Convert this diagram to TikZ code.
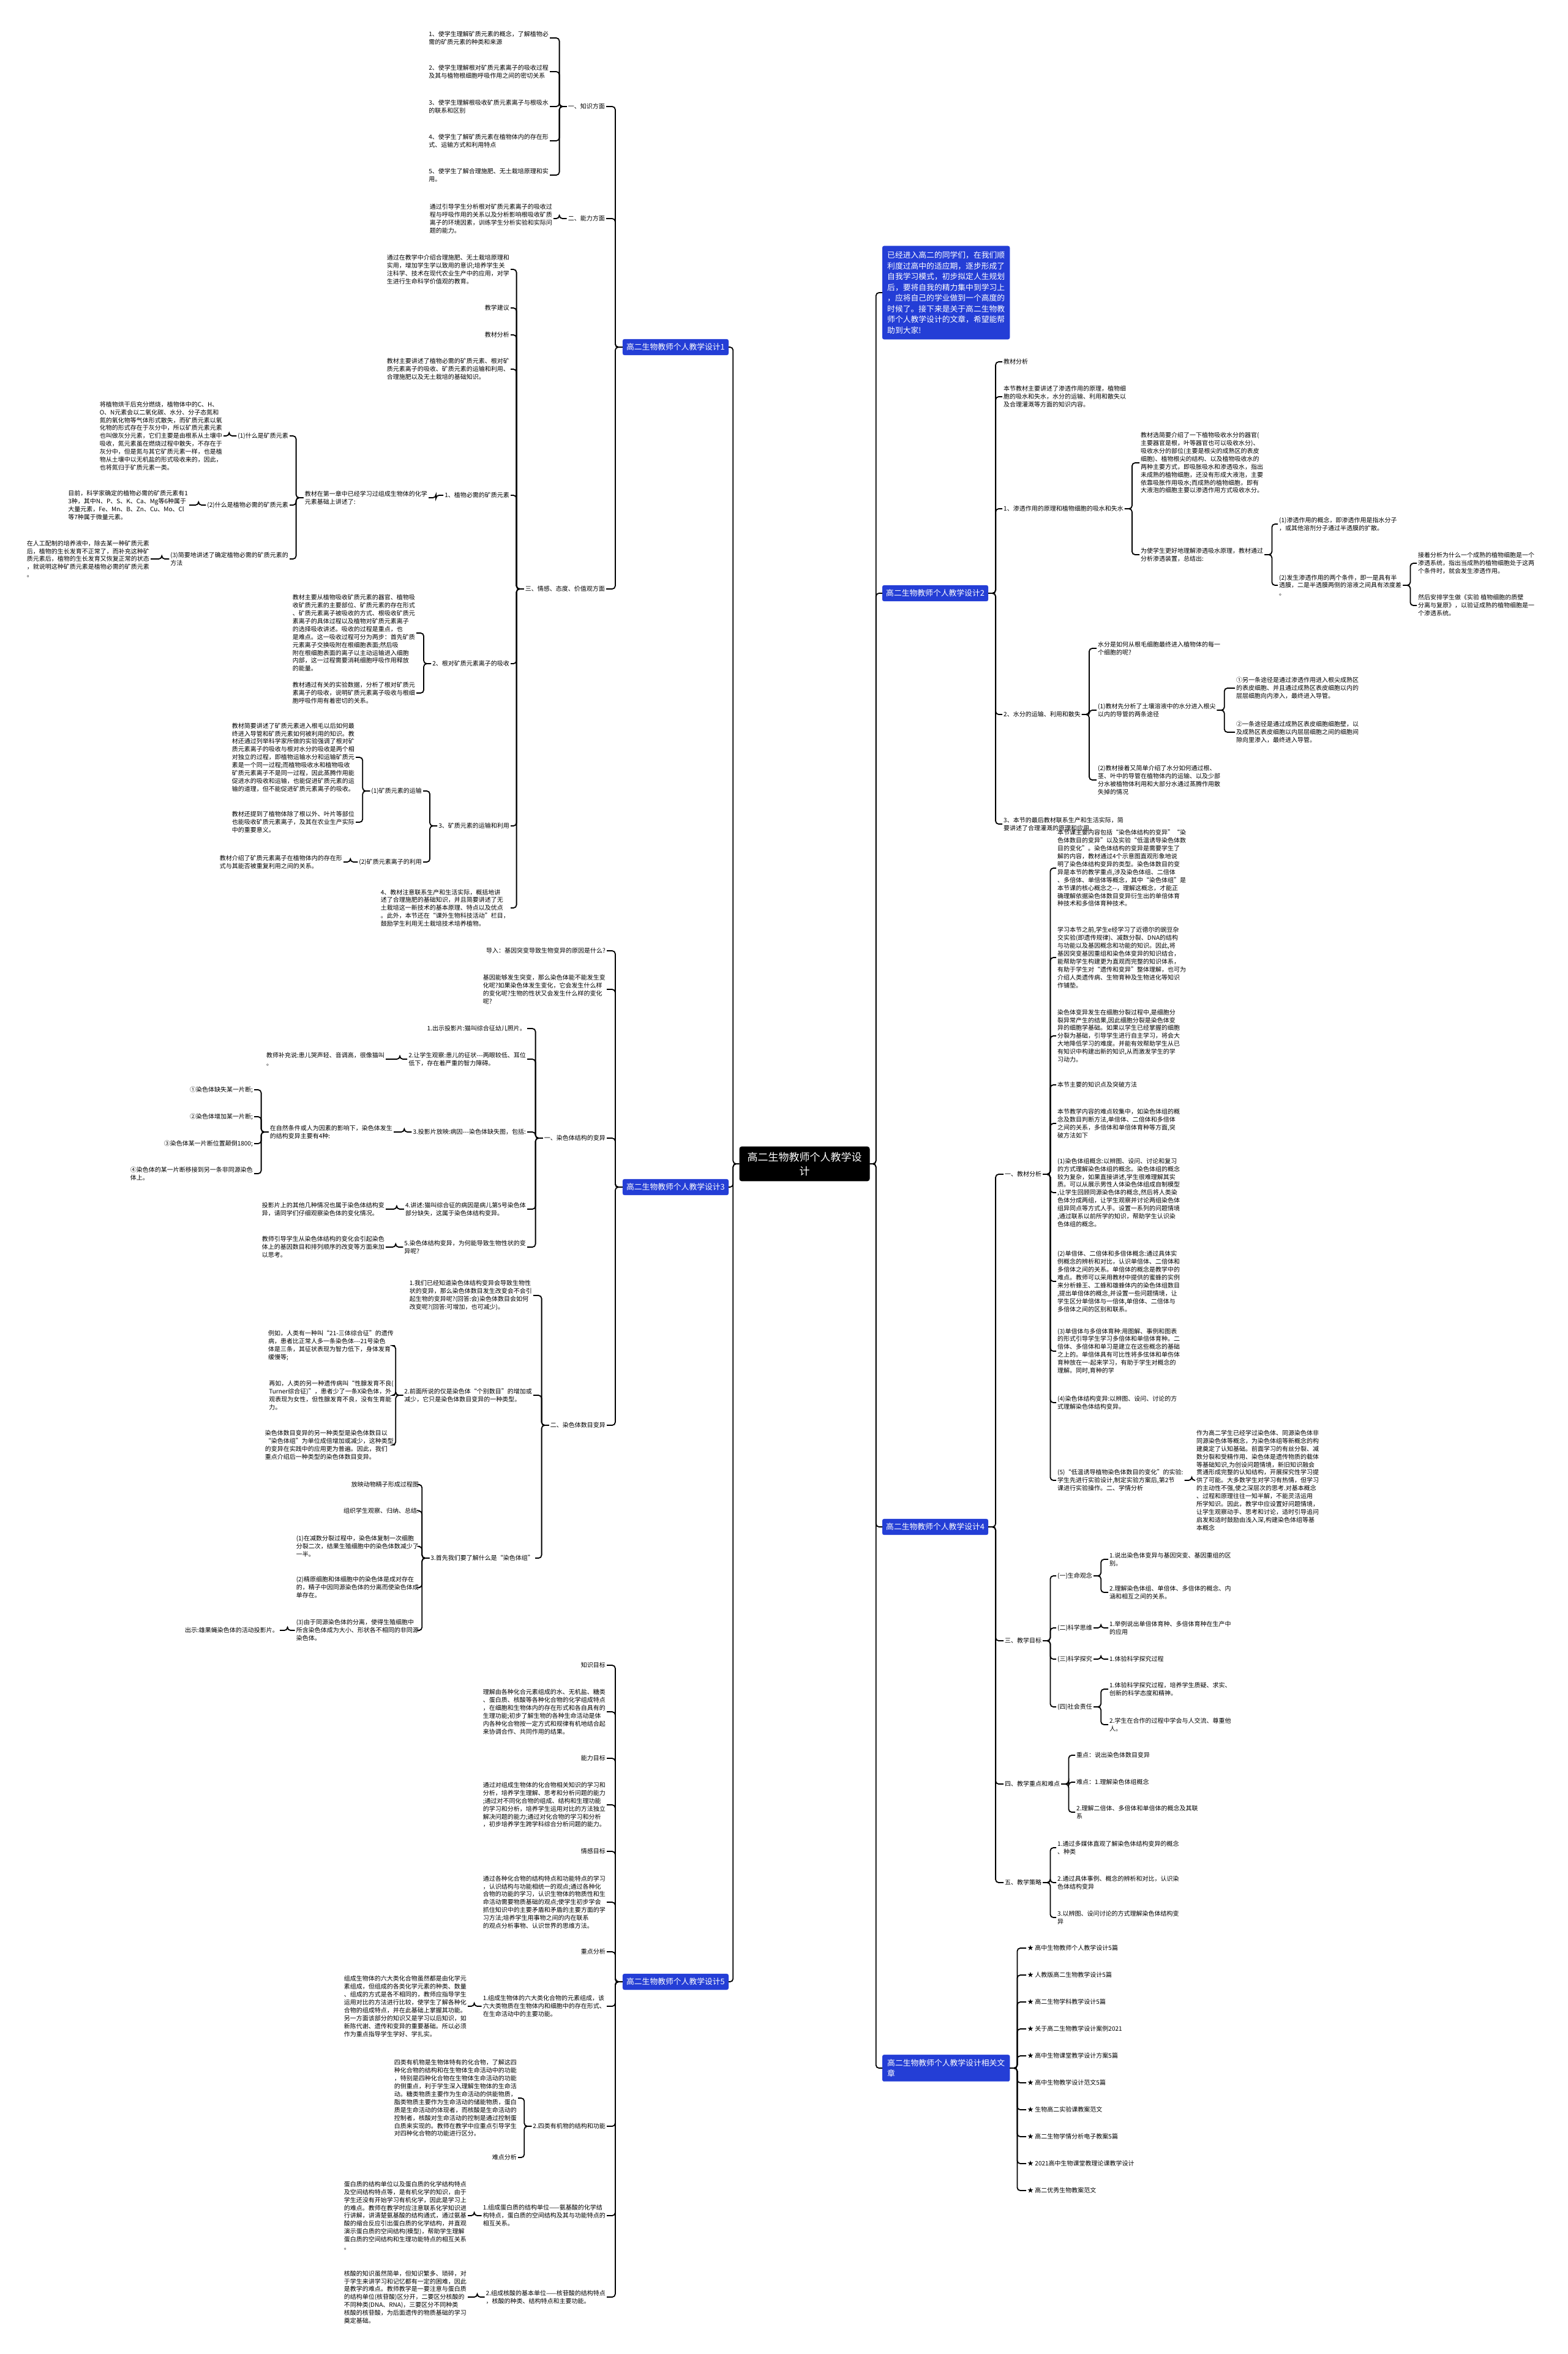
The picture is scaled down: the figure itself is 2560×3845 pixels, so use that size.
\documentclass[tikz,border=0pt]{standalone}
\usepackage{fontspec}
\setmainfont{Noto Sans CJK SC}
\definecolor{topicblue}{RGB}{36,62,214}
\newcommand{\leftkids}[2]{\foreach \kid in {#2}{\draw[conn] (#1.west) -- ++(-12,0) |- (\kid.east);}}
\newcommand{\rightkids}[2]{\foreach \kid in {#2}{\draw[conn] (#1.east) -- ++(12,0) |- (\kid.west);}}

\begin{document}
\begin{tikzpicture}[x=1pt,y=-1pt,
  txt/.style={font=\fontsize{10}{12.9}\selectfont, inner xsep=2pt, inner ysep=1pt, align=left},
  lt/.style={txt, anchor=east},
  rt/.style={txt, anchor=west},
  topic/.style={fill=topicblue, draw=topicblue, text=white, rounded corners=3pt,
    font=\fontsize{12.8}{17.5}\selectfont, inner xsep=6pt, inner ysep=7pt, align=left},
  centrebox/.style={fill=black, text=white, rounded corners=4pt,
    font=\fontsize{17}{23}\selectfont, align=center, inner xsep=13pt, inner ysep=9pt},
  conn/.style={line width=1.8pt, rounded corners=5pt}]
\useasboundingbox (0,0) rectangle (2560,3845);

\node[centrebox] (centre) at (1314,1901) {高二生物教师个人教学设\\计};

\node[topic, anchor=east] (t1) at (1190,567) {高二生物教师个人教学设计1};
\node[topic, anchor=east] (t3) at (1190,1939) {高二生物教师个人教学设计3};
\node[topic, anchor=east] (t5) at (1190,3237) {高二生物教师个人教学设计5};
\node[topic, anchor=west, inner xsep=8pt, inner ysep=9pt] (intro) at (1441,478) {已经进入高二的同学们，在我们顺\\利度过高中的适应期，逐步形成了\\自我学习模式，初步拟定人生规划\\后，要将自我的精力集中到学习上\\，应将自己的学业做到一个高度的\\时候了。接下来是关于高二生物教\\师个人教学设计的文章，希望能帮\\助到大家!};
\node[topic, anchor=west] (t2) at (1441,969) {高二生物教师个人教学设计2};
\node[topic, anchor=west] (t4) at (1441,2494) {高二生物教师个人教学设计4};
\node[topic, anchor=west, inner xsep=8pt] (rel) at (1441,3378) {高二生物教师个人教学设计相关文\\章};

\node[lt] (zs) at (990,174) {一、知识方面};
\node[lt] (zs1) at (898,62) {1、使学生理解矿质元素的概念，了解植物必\\需的矿质元素的种类和来源};
\node[lt] (zs2) at (898,117) {2、使学生理解根对矿质元素离子的吸收过程\\及其与植物根细胞呼吸作用之间的密切关系};
\node[lt] (zs3) at (898,174) {3、使学生理解根吸收矿质元素离子与根吸水\\的联系和区别};
\node[lt] (zs4) at (898,230) {4、使学生了解矿质元素在植物体内的存在形\\式、运输方式和利用特点};
\node[lt] (zs5) at (898,286) {5、使学生了解合理施肥、无土栽培原理和实\\用。};
\node[lt] (nl) at (990,357) {二、能力方面};
\node[lt] (nl1) at (904,357) {通过引导学生分析根对矿质元素离子的吸收过\\程与呼吸作用的关系以及分析影响根吸收矿质\\离子的环境因素，训练学生分析实验和实际问\\题的能力。};
\node[lt] (qg) at (990,962) {三、情感、态度、价值观方面};
\node[lt] (qg1) at (834,440) {通过在教学中介绍合理施肥、无土栽培原理和\\实用，增加学生学以致用的意识;培养学生关\\注科学、技术在现代农业生产中的应用，对学\\生进行生命科学价值观的教育。};
\node[lt] (qg2) at (834,503) {教学建议};
\node[lt] (qg3) at (834,547) {教材分析};
\node[lt] (qg4) at (834,603) {教材主要讲述了植物必需的矿质元素、根对矿\\质元素离子的吸收、矿质元素的运输和利用、\\合理施肥以及无土栽培的基础知识。};
\node[lt] (kz) at (834,809) {1、植物必需的矿质元素};
\node[lt] (kz0) at (700,813) {教材在第一章中已经学习过组成生物体的化学\\元素基础上讲述了:};
\node[lt] (kz1) at (473,712) {(1)什么是矿质元素};
\node[lt] (kz1a) at (365,712) {将植物烘干后充分燃烧，植物体中的C、H、\\O、N元素会以二氧化碳、水分、分子态氮和\\氮的氧化物等气体形式散失，而矿质元素以氧\\化物的形式存在于灰分中，所以矿质元素元素\\也叫做灰分元素，它们主要是由根系从土壤中\\吸收，氮元素虽在燃烧过程中散失，不存在于\\灰分中，但是氮与其它矿质元素一样，也是植\\物从土壤中以无机盐的形式吸收来的，因此，\\也将氮归于矿质元素一类。};
\node[lt] (kz2) at (473,825) {(2)什么是植物必需的矿质元素};
\node[lt] (kz2a) at (309,825) {目前，科学家确定的植物必需的矿质元素有1\\3种，其中N、P、S、K、Ca、Mg等6种属于\\大量元素，Fe、Mn、B、Zn、Cu、Mo、Cl\\等7种属于微量元素。};
\node[lt] (kz3) at (473,913) {(3)简要地讲述了确定植物必需的矿质元素的\\方法};
\node[lt] (kz3a) at (246,913) {在人工配制的培养液中，除去某一种矿质元素\\后，植物的生长发育不正常了，而补充这种矿\\质元素后，植物的生长发育又恢复正常的状态\\，就说明这种矿质元素是植物必需的矿质元素\\。};
\node[lt] (xs) at (834,1084) {2、根对矿质元素离子的吸收};
\node[lt] (xs1) at (680,1034) {教材主要从植物吸收矿质元素的器官、植物吸\\收矿质元素的主要部位、矿质元素的存在形式\\、矿质元素离子被吸收的方式、根吸收矿质元\\素离子的具体过程以及植物对矿质元素离子\\的选择吸收讲述。吸收的过程是重点，也\\是难点。这一吸收过程可分为两步：首先矿质\\元素离子交换吸附在根细胞表面;然后吸\\附在根细胞表面的离子以主动运输进入细胞\\内部，这一过程需要消耗细胞呼吸作用释放\\的能量。};
\node[lt] (xs2) at (680,1132) {教材通过有关的实验数据，分析了根对矿质元\\素离子的吸收，说明矿质元素离子吸收与根细\\胞呼吸作用有着密切的关系。};
\node[lt] (ys) at (834,1349) {3、矿质元素的运输和利用};
\node[lt] (ys1) at (691,1292) {(1)矿质元素的运输};
\node[lt] (ys1a) at (581,1237) {教材简要讲述了矿质元素进入根毛以后如何最\\终进入导管和矿质元素如何被利用的知识。教\\材还通过列举科学家所做的实验强调了根对矿\\质元素离子的吸收与根对水分的吸收是两个相\\对独立的过程，即植物运输水分和运输矿质元\\素是一个同一过程;而植物吸收水和植物吸收\\矿质元素离子不是同一过程，因此蒸腾作用能\\促进水的吸收和运输，也能促进矿质元素的运\\输的道理，但不能促进矿质元素离子的吸收。};
\node[lt] (ys1b) at (581,1343) {教材还提到了植物体除了根以外、叶片等部位\\也能吸收矿质元素离子，及其在农业生产实际\\中的重要意义。};
\node[lt] (ys2) at (691,1408) {(2)矿质元素离子的利用};
\node[lt] (ys2a) at (561,1408) {教材介绍了矿质元素离子在植物体内的存在形\\式与其能否被重复利用之间的关系。};
\node[lt] (qg8) at (834,1483) {4、教材注意联系生产和生活实际，概括地讲\\述了合理施肥的基础知识，并且简要讲述了无\\土栽培这一新技术的基本原理、特点以及优点\\。此外，本节还在“课外生物科技活动”栏目，\\鼓励学生利用无土栽培技术培养植物。};

\node[lt] (dr) at (991,1553) {导入：基因突变导致生物变异的原因是什么?};
\node[lt] (jy) at (991,1616) {基因能够发生突变，那么染色体能不能发生变\\化呢?如果染色体发生变化，它会发生什么样\\的变化呢?生物的性状又会发生什么样的变化\\呢?};
\node[lt] (jg) at (991,1859) {一、染色体结构的变异};
\node[lt] (jg1) at (861,1680) {1.出示投影片:猫叫综合征幼儿照片。};
\node[lt] (jg2) at (861,1730) {2.让学生观察:患儿的征状-{}-{}-两眼较低、耳位\\低下，存在着严重的智力障碍。};
\node[lt] (jg2a) at (630,1730) {教师补充说:患儿哭声轻、音调高，很像猫叫\\。};
\node[lt] (jg3) at (861,1849) {3.投影片放映:病因-{}-{}-染色体缺失图，包括:};
\node[lt] (jg3a) at (643,1849) {在自然条件或人为因素的影响下，染色体发生\\的结构变异主要有4种:};
\node[lt] (jg3a1) at (415,1780) {①染色体缺失某一片断;};
\node[lt] (jg3a2) at (415,1824) {②染色体增加某一片断;};
\node[lt] (jg3a3) at (415,1868) {③染色体某一片断位置颠倒1800;};
\node[lt] (jg3a4) at (415,1917) {④染色体的某一片断移接到另一条非同源染色\\体上。};
\node[lt] (jg4) at (861,1975) {4.讲述:猫叫综合征的病因是病儿第5号染色体\\部分缺失，这属于染色体结构变异。};
\node[lt] (jg4a) at (630,1975) {投影片上的其他几种情况也属于染色体结构变\\异，请同学们仔细观察染色体的变化情况。};
\node[lt] (jg5) at (861,2037) {5.染色体结构变异，为何能导致生物性状的变\\异呢?};
\node[lt] (jg5a) at (630,2037) {教师引导学生从染色体结构的变化会引起染色\\体上的基因数目和排列顺序的改变等方面来加\\以思考。};
\node[lt] (sm) at (991,2328) {二、染色体数目变异};
\node[lt] (sm1) at (871,2116) {1.我们已经知道染色体结构变异会导致生物性\\状的变异，那么染色体数目发生改变会不会引\\起生物的变异呢?(回答:会)染色体数目会如何\\改变呢?(回答:可增加，也可减少)。};
\node[lt] (sm2) at (871,2279) {2.前面所说的仅是染色体“个别数目”的增加或\\减少，它只是染色体数目变异的一种类型。};
\node[lt] (sm2a) at (645,2198) {例如，人类有一种叫“21-三体综合征”的遗传\\病，患者比正常人多一条染色体-{}-{}-21号染色\\体是三条，其征状表现为智力低下，身体发育\\缓慢等;};
\node[lt] (sm2b) at (645,2279) {再如，人类的另一种遗传病叫“性腺发育不良(\\Turner综合征)”，患者少了一条X染色体，外\\观表现为女性，但性腺发育不良，没有生育能\\力。};
\node[lt] (sm2c) at (645,2360) {染色体数目变异的另一种类型是染色体数目以\\“染色体组”为单位成倍增加或减少，这种类型\\的变异在实践中的应用更为普遍。因此，我们\\重点介绍后一种类型的染色体数目变异。};
\node[lt] (sm3) at (874,2545) {3.首先我们要了解什么是“染色体组”};
\node[lt] (sm3a) at (686,2425) {放映动物精子形成过程图};
\node[lt] (sm3b) at (686,2468) {组织学生观察、归纳、总结:};
\node[lt] (sm3c) at (686,2526) {(1)在减数分裂过程中，染色体复制一次细胞\\分裂二次，结果生殖细胞中的染色体数减少了\\一半。};
\node[lt] (sm3d) at (686,2593) {(2)精原细胞和体细胞中的染色体是成对存在\\的，精子中因同源染色体的分离而使染色体成\\单存在。};
\node[lt] (sm3e) at (686,2663) {(3)由于同源染色体的分离，使得生殖细胞中\\所含染色体成为大小、形状各不相同的非同源\\染色体。};
\node[lt] (sm3e1) at (457,2663) {出示:雄果蝇染色体的活动投影片。};

\node[lt] (mb1) at (991,2720) {知识目标};
\node[lt] (mb2) at (991,2796) {理解由各种化合元素组成的水、无机盐、糖类\\、蛋白质、核酸等各种化合物的化学组成特点\\，在细胞和生物体内的存在形式和各自具有的\\生理功能;初步了解生物的各种生命活动是体\\内各种化合物按一定方式和规律有机地结合起\\来协调合作、共同作用的结果。};
\node[lt] (mb3) at (991,2872) {能力目标};
\node[lt] (mb4) at (991,2948) {通过对组成生物体的化合物相关知识的学习和\\分析，培养学生理解、思考和分析问题的能力\\;通过对不同化合物的组成、结构和生理功能\\的学习和分析，培养学生运用对比的方法独立\\解决问题的能力;通过对化合物的学习和分析\\，初步培养学生跨学科综合分析问题的能力。};
\node[lt] (mb5) at (991,3024) {情感目标};
\node[lt] (mb6) at (991,3107) {通过各种化合物的结构特点和功能特点的学习\\，认识结构与功能相统一的观点;通过各种化\\合物的功能的学习，认识生物体的物质性和生\\命活动需要物质基础的观点;使学生初步学会\\抓住知识中的主要矛盾和矛盾的主要方面的学\\习方法;培养学生用事物之间的内在联系\\的观点分析事物、认识世界的思维方法。};
\node[lt] (zd) at (991,3188) {重点分析};
\node[lt] (zd1) at (991,3277) {1.组成生物体的六大类化合物的元素组成，该\\六大类物质在生物体内和细胞中的存在形式、\\在生命活动中的主要功能。};
\node[lt] (zd1a) at (764,3277) {组成生物体的六大类化合物虽然都是由化学元\\素组成，但组成的各类化学元素的种类、数量\\、组成的方式是各不相同的，教师应指导学生\\运用对比的方法进行比较，使学生了解各种化\\合物的组成特点，并在此基础上掌握其功能。\\另一方面该部分的知识又是学习以后知识，如\\新陈代谢、遗传和变异的重要基础。所以必须\\作为重点指导学生学好、学扎实。};
\node[lt] (zd2) at (991,3473) {2.四类有机物的结构和功能};
\node[lt] (zd2a) at (846,3427) {四类有机物是生物体特有的化合物，了解这四\\种化合物的结构和在生物体生命活动中的功能\\，特别是四种化合物在生物体生命活动的功能\\的侧重点，利于学生深入理解生物体的生命活\\动。糖类物质主要作为生命活动的供能物质，\\脂类物质主要作为生命活动的储能物质，蛋白\\质是生命活动的体现者，而核酸是生命活动的\\控制者，核酸对生命活动的控制是通过控制蛋\\白质来实现的。教师在教学中应重点引导学生\\对四种化合物的功能进行区分。};
\node[lt] (nd) at (846,3524) {难点分析};
\node[lt] (nd1) at (991,3619) {1.组成蛋白质的结构单位——氨基酸的化学结\\构特点，蛋白质的空间结构及其与功能特点的\\相互关系。};
\node[lt] (nd1a) at (764,3619) {蛋白质的结构单位以及蛋白质的化学结构特点\\及空间结构特点等，是有机化学的知识，由于\\学生还没有开始学习有机化学，因此是学习上\\的难点。教师在教学时应注意联系化学知识进\\行讲解，讲清楚氨基酸的结构通式，通过氨基\\酸的缩合反应引出蛋白质的化学结构，并直观\\演示蛋白质的空间结构(模型)，帮助学生理解\\蛋白质的空间结构和生理功能特点的相互关系\\。};
\node[lt] (nd2) at (991,3752) {2.组成核酸的基本单位——核苷酸的结构特点\\，核酸的种类、结构特点和主要功能。};
\node[lt] (nd2a) at (764,3752) {核酸的知识虽然简单，但知识繁多、琐碎，对\\于学生来讲学习和记忆都有一定的困难，因此\\是教学的难点。教师教学是一要注意与蛋白质\\的结构单位(核苷酸)区分开，二要区分核酸的\\不同种类(DNA、RNA)，三要区分不同种类\\核酸的核苷酸，为后面遗传的物质基础的学习\\奠定基础。};

\node[rt] (fx) at (1637,591) {教材分析};
\node[rt] (bj) at (1637,648) {本节教材主要讲述了渗透作用的原理，植物细\\胞的吸水和失水，水分的运输、利用和散失以\\及合理灌溉等方面的知识内容。};
\node[rt] (st) at (1637,831) {1、渗透作用的原理和植物细胞的吸水和失水};
\node[rt] (st1) at (1861,756) {教材选简要介绍了一下植物吸收水分的器官(\\主要器官是根，叶等器官也可以吸收水分)、\\吸收水分的部位(主要是根尖的成熟区的表皮\\细胞)、植物根尖的结构、以及植物吸收水的\\两种主要方式，即吸胀吸水和渗透吸水，指出\\未成熟的植物细胞，还没有形成大液泡，主要\\依靠吸胀作用吸水;而成熟的植物细胞，即有\\大液泡的细胞主要以渗透作用方式吸收水分。};
\node[rt] (st2) at (1861,906) {为使学生更好地理解渗透吸水原理，教材通过\\分析渗透装置，总结出:};
\node[rt] (st2a) at (2087,856) {(1)渗透作用的概念，即渗透作用是指水分子\\，或其他溶剂分子通过半透膜的扩散。};
\node[rt] (st2b) at (2087,956) {(2)发生渗透作用的两个条件，即一是具有半\\透膜，二是半透膜两侧的溶液之间具有浓度差\\。};
\node[rt] (st2b1) at (2314,920) {接着分析为什么一个成熟的植物细胞是一个\\渗透系统，指出当成熟的植物细胞处于这两\\个条件时，就会发生渗透作用。};
\node[rt] (st2b2) at (2314,989) {然后安排学生做《实验 植物细胞的质壁\\分离与复原》，以验证成熟的植物细胞是一\\个渗透系统。};
\node[rt] (sf) at (1637,1167) {2、水分的运输、利用和散失};
\node[rt] (sf1) at (1791,1059) {水分是如何从根毛细胞最终进入植物体的每一\\个细胞的呢?};
\node[rt] (sf2) at (1791,1160) {(1)教材先分析了土壤溶液中的水分进入根尖\\以内的导管的两条途径};
\node[rt] (sf2a) at (2017,1124) {①另一条途径是通过渗透作用进入根尖成熟区\\的表皮细胞、并且通过成熟区表皮细胞以内的\\层层细胞向内渗入，最终进入导管。};
\node[rt] (sf2b) at (2017,1196) {②一条途径是通过成熟区表皮细胞细胞壁，以\\及成熟区表皮细胞以内层层细胞之间的细胞间\\隙向里渗入，最终进入导管。};
\node[rt] (sf3) at (1791,1274) {(2)教材接着又简单介绍了水分如何通过根、\\茎、叶中的导管在植物体内的运输、以及少部\\分水被植物体利用和大部分水通过蒸腾作用散\\失掉的情况};
\node[rt] (hl) at (1637,1346) {3、本节的最后教材联系生产和生活实际，简\\要讲述了合理灌溉的原理和应用。};

\node[rt] (jc) at (1639,1918) {一、教材分析};
\node[rt] (jc1) at (1725,1418) {本节课主要内容包括“染色体结构的变异”“染\\色体数目的变异”以及实验“低温诱导染色体数\\目的变化”。染色体结构的变异是需要学生了\\解的内容，教材通过4个示意图直观形象地说\\明了染色体结构变异的类型。染色体数目的变\\异是本节的教学重点,涉及染色体组、二倍体\\、多倍体、单倍体等概念，其中“染色体组”是\\本节课的核心概念之-{}-，理解这概念，才能正\\确理解依据染色体数目变异衍生出的单倍体育\\种技术和多倍体育种技术。};
\node[rt] (jc2) at (1725,1564) {学习本节之前,学生e经学习了近德尔的豌豆杂\\交实验(即遗传规律)、减数分裂、DNA的结构\\与功能以及基因概念和功能的知识。因此,将\\基因突变基因重组和染色体变异的知识结合，\\能帮助学生构建更为直观而完整的知识体系，\\有助于学生对“遗传和变异”整体理解，也可为\\介绍人类遗传病、生物育种及生物进化等知识\\作铺垫。};
\node[rt] (jc3) at (1725,1692) {染色体变异发生在细胞分裂过程中,是细胞分\\裂异常产生的结果,因此细胞分裂是染色体变\\异的细胞学基础。如果以学生已经掌握的细胞\\分裂为基础，引导学生进行自主学习，将会大\\大地降低学习的难度。并能有效帮助学生从已\\有知识中构建出新的知识,从而激发学生的学\\习动力。};
\node[rt] (jc4) at (1725,1772) {本节主要的知识点及突破方法};
\node[rt] (jc5) at (1725,1835) {本节教学内容的难点较集中，如染色体组的概\\念及数目判断方法,单倍体、二倍体和多倍体\\之间的关系，多倍体和单倍体育种等方面,突\\破方法如下};
\node[rt] (jc6) at (1725,1948) {(1)染色体组概念:以辨图、设问、讨论和复习\\的方式理解染色体组的概念。染色体组的概念\\较为复杂，如果直接讲述,学生很难理解其实\\质。可以从展示男性人体染色体组成自制模型\\,让学生回顾同源染色体的概念,然后将人类染\\色体分成两组，让学生观察并讨论两组染色体\\组异同点等方式人手。设置一系列的问题情境\\,通过联系以前所学的知识，帮助学生认识染\\色体组的概念。};
\node[rt] (jc7) at (1725,2093) {(2)单倍体、二倍体和多倍体概念:通过具体实\\例概念的辨析和对比，认识单倍体、二倍体和\\多倍体之间的关系。单倍体的概念是教学中的\\难点。教师可以采用教材中提供的蜜蜂的实例\\来分析蜂王、工蜂和雄蜂体内的染色体组数目\\,提出单倍体的概念,并设置一些问题情境，让\\学生区分单倍体与一倍体,单倍体、二倍体与\\多倍体之间的区别和联系。};
\node[rt] (jc8) at (1725,2207) {(3)单倍体与多倍体育种:用图解、事例和图表\\的形式引导学生学习多倍体和单倍体育种。二\\倍体、多倍体和单习是建立在这些概念的基础\\之上的。单倍体具有可比性将多伭体和单伤体\\育种放在一-起来学习，有助于学生对概念的\\理解。同时,育种的学};
\node[rt] (jc9) at (1725,2291) {(4)染色体结构变异:以辨图、设问、讨论的方\\式理解染色体结构变异。};
\node[rt] (jc10) at (1725,2418) {(5)“低温诱导植物染色体数目的变化”的实验:\\学生先进行实验设计,制定实验方案后,第2节\\课进行实验操作。二、学情分析};
\node[rt] (xq) at (1952,2418) {作为高二学生已经学过染色体、同源染色体非\\同源染色体等概念，为染色体组等新概念的构\\建奠定了认知基础。前面学习的有丝分裂、减\\数分裂和受精作用、染色体是遗传物质的载体\\等基础知识,为创设问题情境，新旧知识融会\\贯通形成完整的认知结构，开展探究性学习提\\供了可能。大多数学生对学习有热情，但学习\\的主动性不强,使之深层次的思考.对基本概念\\、过程和原理往往一知半解，不能灵活运用\\所学知识。因此，教学中应设置好问题情境，\\让学生观察动手、思考和讨论，适时引导追问\\启发和适时鼓励由浅入深,构建染色体组等基\\本概念};
\node[rt] (mbj) at (1639,2680) {三、教学目标};
\node[rt] (sg) at (1725,2574) {(一)生命观念};
\node[rt] (sg1) at (1810,2547) {1.说出染色体变异与基因突变、基因重组的区\\别。};
\node[rt] (sg2) at (1810,2601) {2.理解染色体组、单倍体、多倍体的概念、内\\涵和相互之间的关系。};
\node[rt] (ks) at (1725,2659) {(二)科学思维};
\node[rt] (ks1) at (1810,2659) {1.举例说出单倍体育种、多倍体育种在生产中\\的应用};
\node[rt] (kt) at (1725,2710) {(三)科学探究};
\node[rt] (kt1) at (1810,2710) {1.体验科学探究过程};
\node[rt] (sh) at (1725,2788) {(四)社会责任};
\node[rt] (sh1) at (1810,2759) {1.体验科学探究过程，培养学生质疑、求实、\\创新的科学态度和精神。};
\node[rt] (sh2) at (1810,2817) {2.学生在合作的过程中学会与人交流、尊重他\\人。};
\node[rt] (zdn) at (1639,2914) {四、教学重点和难点};
\node[rt] (zdn1) at (1756,2867) {重点：说出染色体数目变异};
\node[rt] (zdn2) at (1756,2911) {难点：1.理解染色体组概念};
\node[rt] (zdn3) at (1756,2960) {2.理解二倍体、多倍体和单倍体的概念及其联\\系};
\node[rt] (cl) at (1639,3075) {五、教学策略};
\node[rt] (cl1) at (1725,3018) {1.通过多媒体直观了解染色体结构变异的概念\\、种类};
\node[rt] (cl2) at (1725,3075) {2.通过具体事例、概念的辨析和对比，认识染\\色体结构变异};
\node[rt] (cl3) at (1725,3132) {3.以辨图、设问讨论的方式理解染色体结构变\\异};

\foreach \art [count=\i] in {高中生物教师个人教学设计5篇, 人教版高二生物教学设计5篇, 高二生物学科教学设计5篇, 关于高二生物教学设计案例2021, 高中生物课堂教学设计方案5篇, 高中生物教学设计范文5篇, 生物高二实验课教案范文, 高二生物学情分析电子教案5篇, 2021高中生物课堂教理论课教学设计, 高二优秀生物教案范文}
  \node[rt] (rel\i) at (1676,{3138+44*\i}) {★ \art};

\foreach \br in {t1,t3,t5} \draw[conn] (centre.west) -- ++(-10,0) |- (\br.east);
\foreach \br in {intro,t2,t4,rel} \draw[conn] (centre.east) -- ++(10,0) |- (\br.west);

\leftkids{t1}{zs,nl,qg}
\leftkids{zs}{zs1,zs2,zs3,zs4,zs5}
\leftkids{nl}{nl1}
\leftkids{qg}{qg1,qg2,qg3,qg4,kz,xs,ys,qg8}
\leftkids{kz}{kz0}
\leftkids{kz0}{kz1,kz2,kz3}
\leftkids{kz1}{kz1a}
\leftkids{kz2}{kz2a}
\leftkids{kz3}{kz3a}
\leftkids{xs}{xs1,xs2}
\leftkids{ys}{ys1,ys2}
\leftkids{ys1}{ys1a,ys1b}
\leftkids{ys2}{ys2a}

\leftkids{t3}{dr,jy,jg,sm}
\leftkids{jg}{jg1,jg2,jg3,jg4,jg5}
\leftkids{jg2}{jg2a}
\leftkids{jg3}{jg3a}
\leftkids{jg3a}{jg3a1,jg3a2,jg3a3,jg3a4}
\leftkids{jg4}{jg4a}
\leftkids{jg5}{jg5a}
\leftkids{sm}{sm1,sm2,sm3}
\leftkids{sm2}{sm2a,sm2b,sm2c}
\leftkids{sm3}{sm3a,sm3b,sm3c,sm3d,sm3e}
\leftkids{sm3e}{sm3e1}

\leftkids{t5}{mb1,mb2,mb3,mb4,mb5,mb6,zd,zd1,zd2,nd1,nd2}
\leftkids{zd1}{zd1a}
\leftkids{zd2}{zd2a,nd}
\leftkids{nd1}{nd1a}
\leftkids{nd2}{nd2a}

\rightkids{t2}{fx,bj,st,sf,hl}
\rightkids{st}{st1,st2}
\rightkids{st2}{st2a,st2b}
\rightkids{st2b}{st2b1,st2b2}
\rightkids{sf}{sf1,sf2,sf3}
\rightkids{sf2}{sf2a,sf2b}

\rightkids{t4}{jc,mbj,zdn,cl}
\rightkids{jc}{jc1,jc2,jc3,jc4,jc5,jc6,jc7,jc8,jc9,jc10}
\rightkids{jc10}{xq}
\rightkids{mbj}{sg,ks,kt,sh}
\rightkids{sg}{sg1,sg2}
\rightkids{ks}{ks1}
\rightkids{kt}{kt1}
\rightkids{sh}{sh1,sh2}
\rightkids{zdn}{zdn1,zdn2,zdn3}
\rightkids{cl}{cl1,cl2,cl3}

\foreach \i in {1,...,10} \draw[conn] (rel.east) -- ++(12,0) |- (rel\i.west);
\end{tikzpicture}
\end{document}
